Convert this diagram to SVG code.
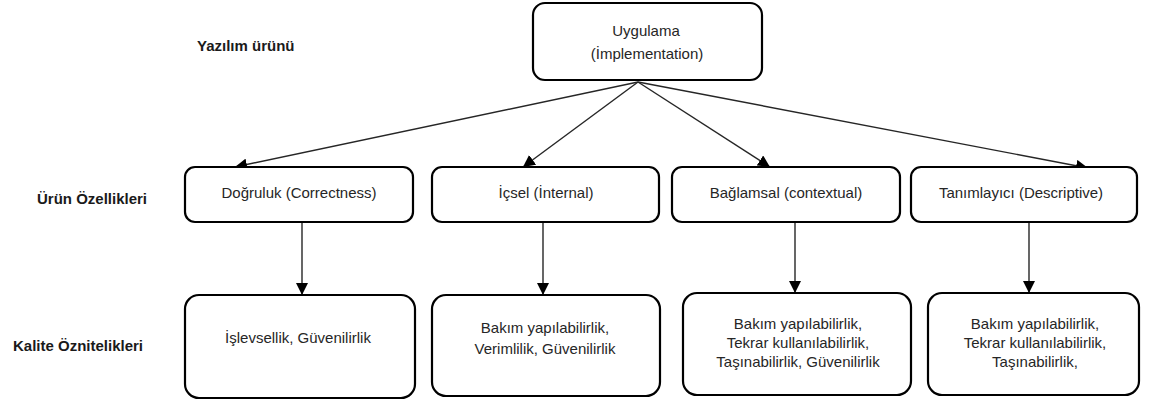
<svg xmlns="http://www.w3.org/2000/svg" width="1155" height="401" viewBox="0 0 1155 401">
  <style>
    .box { fill: #ffffff; stroke: #000000; stroke-width: 2.2; }
    .txt { font-family: "Liberation Sans", Arial, sans-serif; font-size: 15px; fill: #262626; text-anchor: middle; dominant-baseline: central; }
    .lbl { font-family: "Liberation Sans", Arial, sans-serif; font-size: 15px; font-weight: bold; fill: #1a1a1a; dominant-baseline: central; }
    .edge { stroke: #262626; stroke-width: 1.4; fill: none; marker-end: url(#arrow); }
  </style>
  <defs>
    <marker id="arrow" markerUnits="userSpaceOnUse" markerWidth="14" markerHeight="12" refX="12" refY="6" orient="auto">
      <path d="M0,0 L12,6 L0,12 Z" fill="#000000"/>
    </marker>
  </defs>

  <rect width="1155" height="401" fill="#ffffff"/>

  <!-- level labels -->
  <g id="labels">
    <text class="lbl" x="197" y="45">Yazılım ürünü</text>
    <text class="lbl" x="37" y="198">Ürün Özellikleri</text>
    <text class="lbl" x="13" y="345">Kalite Öznitelikleri</text>
  </g>

  <!-- connectors -->
  <g id="connectors">
    <line class="edge" x1="638" y1="82" x2="235" y2="167"/>
    <line class="edge" x1="638" y1="82" x2="523" y2="167"/>
    <line class="edge" x1="638" y1="82" x2="770" y2="167"/>
    <line class="edge" x1="638" y1="82" x2="1088" y2="168"/>
    <line class="edge" x1="302" y1="222" x2="302" y2="295"/>
    <line class="edge" x1="543" y1="222" x2="543" y2="295"/>
    <line class="edge" x1="795" y1="222" x2="795" y2="293"/>
    <line class="edge" x1="1029" y1="222" x2="1029" y2="293"/>
  </g>

  <!-- root -->
  <g id="node-uygulama">
    <rect class="box" x="533" y="3" width="229" height="77" rx="12"/>
    <text class="txt" x="646" y="30">Uygulama</text>
    <text class="txt" x="647" y="53">(İmplementation)</text>
  </g>

  <!-- product properties -->
  <g id="node-dogruluk">
    <rect class="box" x="185" y="167" width="228" height="55" rx="10"/>
    <text class="txt" x="299" y="192">Doğruluk (Correctness)</text>
  </g>
  <g id="node-icsel">
    <rect class="box" x="432" y="167" width="227" height="55" rx="10"/>
    <text class="txt" x="546" y="192">İçsel (İnternal)</text>
  </g>
  <g id="node-baglamsal">
    <rect class="box" x="672" y="167" width="228" height="55" rx="10"/>
    <text class="txt" x="786" y="192">Bağlamsal (contextual)</text>
  </g>
  <g id="node-tanimlayici">
    <rect class="box" x="911" y="167" width="226" height="55" rx="10"/>
    <text class="txt" x="1021" y="192">Tanımlayıcı (Descriptive)</text>
  </g>

  <!-- quality attributes -->
  <g id="node-kalite-1">
    <rect class="box" x="185" y="295" width="230" height="103" rx="14"/>
    <text class="txt" x="298" y="337">İşlevsellik, Güvenilirlik</text>
  </g>
  <g id="node-kalite-2">
    <rect class="box" x="432" y="295" width="228" height="101" rx="14"/>
    <text class="txt" x="545" y="327">Bakım yapılabilirlik,</text>
    <text class="txt" x="545" y="348">Verimlilik, Güvenilirlik</text>
  </g>
  <g id="node-kalite-3">
    <rect class="box" x="683" y="293" width="228" height="102" rx="14"/>
    <text class="txt" x="798" y="323">Bakım yapılabilirlik,</text>
    <text class="txt" x="798" y="342">Tekrar kullanılabilirlik,</text>
    <text class="txt" x="798" y="361">Taşınabilirlik, Güvenilirlik</text>
  </g>
  <g id="node-kalite-4">
    <rect class="box" x="928" y="293" width="211" height="102" rx="14"/>
    <text class="txt" x="1035" y="323">Bakım yapılabilirlik,</text>
    <text class="txt" x="1035" y="342">Tekrar kullanılabilirlik,</text>
    <text class="txt" x="1035" y="361">Taşınabilirlik,</text>
  </g>
</svg>
